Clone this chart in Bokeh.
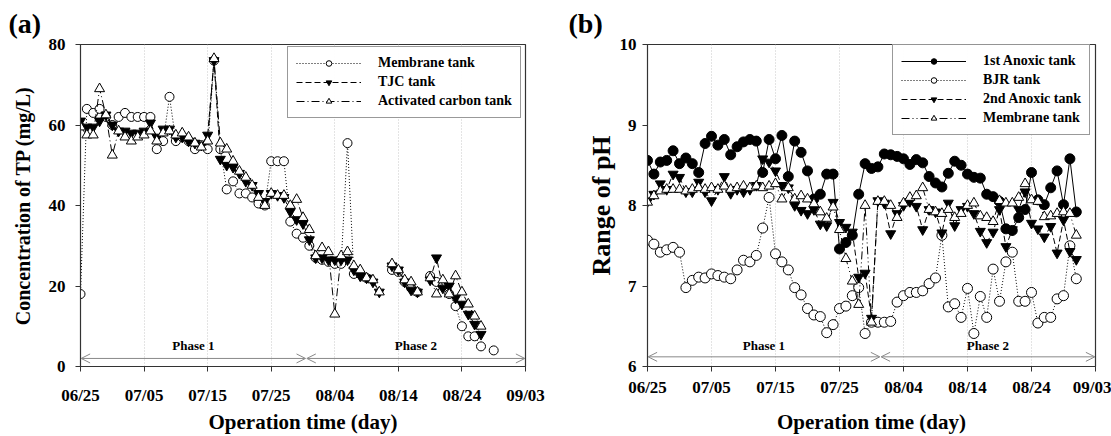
from bokeh.plotting import figure
from bokeh.models import FixedTicker, Legend, LegendItem, Label, Arrow, OpenHead, Range1d, Title
from bokeh.layouts import row
from bokeh.embed import file_html
from bokeh.resources import INLINE

nan = float("nan")

# ---------------- data ----------------
x_ticks = [0, 10, 20, 30, 40, 50, 60, 70]
x_tick_labels = ["06/25", "07/05", "07/15", "07/25", "08/04", "08/14", "08/24", "09/03"]

# Panel (a): TP (mg/L), day offset from 06/25
tp_day = list(range(0, 66))
tp_membrane = [18, 64, 63, 64, 62, 60, 62, 63, 62, 62,
               62, 62, 54, 56, 67, 56, 57, 56, 54, 55,
               54, 76, 54, 44, 46, 43, 43, 42, 40.5, 40,
               51, 51, 51, 36, 33, 32, 30, 27, 26.5, 26,
               25.5, 25.5, 55.5, 23, 23, 22, nan, nan, nan, 24,
               23.5, 21, 19.5, 18.5, nan, 22.5, 21, 20, 18, 15,
               10, 7.5, 7.5, 5, nan, 4]
tp_tjc = [61, 59.5, 59.5, 61, 62.5, 60, 58.5, 58.5, 58, 58,
          58.5, 60.5, 57, 59, 59, 57, 57, 56, 55.5, 55,
          57.5, 76, 51.5, 50, 49.5, 48, 46, 45, 43, 41,
          43, 42.5, 42, 38.5, 36.5, 35.5, 31.5, 27, 27, 26.5,
          26.5, 26.5, 26.5, 24, 22.5, 22, 21, 18.5, nan, 25,
          24, 21, 19, 18.5, nan, 21.5, 27, 19.5, 20, 17,
          15.5, 13, 10.5, 8, nan, nan]
tp_carbon = [59.5, 57.5, 57.5, 69, 62.5, 52.5, 58.5, 57, 56, 57,
             57.5, 58.5, 56, 58, 58.5, 57.5, 58, 57, 55.5, 54.5,
             56, 76.5, 55.5, 54, 51, 48.5, 47, 45, 42, 40,
             43, 42.5, 42.5, 40, 41.5, 37, 34, 27.5, 29.5, 28.5,
             13, 27.5, 28.5, 25, 24, 22, 21.5, 18.5, nan, 25.5,
             24, 21.5, 21, 18.5, nan, 22, 18, 21.5, 18, 22.5,
             18.5, 15.5, 12.5, 10, nan, nan]

# Panel (b): pH
ph_day = list(range(0, 68))
ph_anoxic1 = [8.56, 8.39, 8.54, 8.56, 8.68, 8.52, 8.59, 8.52, 8.41, 8.77,
              8.86, 8.75, 8.82, 8.63, 8.73, 8.79, 8.82, 8.80, 8.41, 8.82,
              8.58, 8.87, 8.36, 8.80, 8.66, 8.43, 8.08, 8.14, 8.39, 8.39,
              7.46, 7.54, 7.63, 8.14, 8.52, 8.46, 8.48, 8.64, 8.63, 8.61,
              8.58, 8.51, 8.57, 8.53, 8.36, 8.28, 8.23, 8.40, 8.55, 8.50,
              8.39, 8.35, 8.34, 8.14, 8.11, 8.05, 7.71, 7.69, 7.85, 7.95,
              8.41, 8.07, 8.01, 8.22, 8.43, 8.01, 8.58, 7.92]
ph_bjr = [7.57, 7.52, 7.42, 7.45, 7.48, 7.42, 6.98, 7.07, 7.11, 7.10,
          7.15, 7.13, 7.11, 7.09, 7.20, 7.32, 7.30, 7.38, 7.72, 8.10,
          7.40, 7.30, 7.20, 6.98, 6.89, 6.72, 6.64, 6.62, 6.42, 6.52,
          6.72, 6.75, 6.88, 6.98, 6.41, 6.55, 6.55, 6.55, 6.56, 6.80,
          6.88, 6.92, 6.92, 6.94, 7.03, 7.10, 7.63, 6.74, 6.78, 6.61,
          6.97, 6.41, 6.87, 6.61, 7.21, 6.81, 7.30, 7.42, 6.81, 6.81,
          6.92, 6.54, 6.61, 6.61, 6.84, 6.88, 7.50, 7.09]
ph_anoxic2 = [8.05, 8.14, 8.27, 8.20, 8.39, 8.35, 8.17, 8.17, 8.29, 8.17,
              8.06, 8.20, 8.36, 8.15, 8.20, 8.17, 8.20, 8.25, 8.58, 8.54,
              8.43, 8.25, 8.22, 8.00, 7.94, 7.90, 7.95, 7.77, 7.75, 8.04,
              7.79, 7.73, 7.67, 7.11, 7.16, 6.60, 8.06, 8.03, 7.65, 7.90,
              8.00, 8.05, 7.99, 7.70, 7.95, 7.92, 7.66, 8.03, 7.75, 7.95,
              7.99, 7.90, 7.68, 7.54, 7.67, 7.95, 7.49, 7.70, 7.95, 8.17,
              7.78, 7.71, 7.61, 7.74, 7.41, 7.82, 7.43, 7.33]
ph_membrane = [8.04, 8.12, 8.18, 8.20, 8.20, 8.20, 8.18, 8.20, 8.22, 8.20,
               8.22, 8.20, 8.24, 8.20, 8.22, 8.24, 8.22, 8.24, 8.22, 8.24,
               8.27, 8.08, 8.22, 8.08, 8.12, 8.08, 8.02, 7.92, 7.84, 7.98,
               7.70, 7.34, 7.06, 6.77, 8.00, 6.55, 8.05, 8.05, 8.00, 7.85,
               8.03, 8.10, 8.12, 8.22, 7.95, 7.92, 7.90, 7.95, 7.85, 7.90,
               8.00, 8.03, 7.87, 7.85, 7.80, 8.06, 8.03, 8.03, 8.10, 8.27,
               8.07, 8.05, 7.86, 7.87, 7.90, 7.92, 7.90, 7.63]

phase_names = ["Phase 1", "Phase 2"]
phase_bounds_a = [0, 35.5, 70]
phase_bounds_b = [0, 36.4, 70]

FONT = "Liberation Serif"


def base_fig(width, yr, yticks, bl, br, ylabel, panel, xstand, xtitle_stand, ystand, ytitle_stand, ysize):
    p = figure(width=width, height=436, x_range=Range1d(0, 70), y_range=Range1d(*yr),
               output_backend="svg", toolbar_location=None,
               min_border_left=bl, min_border_right=br, min_border_top=44, min_border_bottom=70)
    p.title = Title(text=panel, align="left", offset=-bl + 8, text_font=FONT,
                    text_font_style="bold", text_font_size="28px", text_color="black",
                    standoff=11)
    p.background_fill_color = "white"
    p.border_fill_color = "white"
    p.outline_line_color = "#333333"
    p.outline_line_width = 1.2
    p.xaxis.ticker = FixedTicker(ticks=x_ticks)
    p.xaxis.major_label_overrides = {t: l for t, l in zip(x_ticks, x_tick_labels)}
    p.yaxis.ticker = FixedTicker(ticks=yticks)
    for ax in (p.xaxis, p.yaxis):
        ax.major_tick_in = 0
        ax.major_tick_out = 5
        ax.minor_tick_line_color = None
        ax.axis_line_color = "#333333"
        ax.major_tick_line_color = "#333333"
        ax.major_label_text_font = FONT
        ax.major_label_text_font_style = "bold"
        ax.major_label_text_font_size = "17px"
        ax.major_label_text_color = "black"
        ax.axis_label_text_font = FONT
        ax.axis_label_text_font_style = "bold"
        ax.axis_label_text_color = "black"
    p.xaxis.major_label_standoff = xstand
    p.yaxis.major_label_standoff = ystand
    p.xaxis.axis_label = "Operation time (day)"
    p.xaxis.axis_label_text_font_size = "21px"
    p.xaxis.axis_label_standoff = xtitle_stand
    p.yaxis.axis_label = ylabel
    p.yaxis.axis_label_standoff = ytitle_stand
    p.yaxis.axis_label_text_font_size = ysize
    p.xgrid.grid_line_color = "#c8c8c8"
    p.xgrid.grid_line_dash = "1 2"
    p.ygrid.visible = False
    return p


def add_series(p, x, y, dash, marker, fill, size):
    r1 = p.line(x, y, line_color="black", line_width=1, line_dash=dash)
    r2 = p.scatter(x, y, marker=marker, size=size, line_color="black", line_width=1,
                   fill_color=fill)
    return [r1, r2]


def add_phases(p, bounds, ya, ytxt):
    for i, name in enumerate(phase_names):
        p.add_layout(Arrow(start=OpenHead(size=9, line_color="#888888", line_width=1),
                           end=OpenHead(size=9, line_color="#888888", line_width=1),
                           x_start=bounds[i] + 0.1, x_end=bounds[i + 1] - 0.1,
                           y_start=ya, y_end=ya, line_color="#888888", line_width=1))
        p.add_layout(Label(x=(bounds[i] + bounds[i + 1]) / 2, y=ytxt, text=name,
                           text_font=FONT, text_font_style="bold", text_font_size="13px",
                           text_align="center", text_baseline="middle", text_color="black"))


def make_legend(p, items, loc):
    leg = Legend(items=[LegendItem(label=l, renderers=r) for l, r in items], location=loc)
    leg.border_line_color = "#333333"
    leg.border_line_width = 1
    leg.padding = 8
    leg.spacing = 3
    leg.margin = 0
    leg.glyph_width = 65
    leg.glyph_height = 14
    leg.label_height = 14
    leg.label_standoff = 17
    leg.label_text_font = FONT
    leg.label_text_font_style = "bold"
    leg.label_text_font_size = "14px"
    leg.label_text_color = "black"
    p.add_layout(leg)


# ---------------- panel (a) ----------------
pa = base_fig(560, (0, 80), [0, 20, 40, 60, 80], 80, 35, "Concentration of TP (mg/L)", "(a)",
              14, 2, 10, 12, "20px")
r_mem = add_series(pa, tp_day, tp_membrane, "1 2", "circle", "white", 9)
r_tjc = add_series(pa, tp_day, tp_tjc, "6 3", "inverted_triangle", "black", 10)
r_ac = add_series(pa, tp_day, tp_carbon, "8 3 1 3", "triangle", "white", 10)
make_legend(pa, [("Membrane tank", r_mem), ("TJC tank", r_tjc),
                 ("Activated carbon tank", r_ac)], (207, 248))
add_phases(pa, phase_bounds_a, 2.0, 5.3)

# ---------------- panel (b) ----------------
pb = base_fig(551, (6, 10), [6, 7, 8, 9, 10], 87, 16, "Range of pH", "(b)",
              6, 10, 6, 1, "26px")
r_a1 = add_series(pb, ph_day, ph_anoxic1, "solid", "circle", "black", 10)
r_bjr = add_series(pb, ph_day, ph_bjr, "1 2", "circle", "white", 10)
r_a2 = add_series(pb, ph_day, ph_anoxic2, "6 3", "inverted_triangle", "black", 10)
r_mb = add_series(pb, ph_day, ph_membrane, "8 3 1 3 1 3", "triangle", "white", 10)
make_legend(pb, [("1st Anoxic tank", r_a1), ("BJR tank", r_bjr),
                 ("2nd Anoxic tank", r_a2), ("Membrane tank", r_mb)], (245, 231))
add_phases(pb, phase_bounds_b, 6.12, 6.26)

layout = row(pa, pb, spacing=0)
open("out.html", "w").write(file_html(layout, INLINE))
